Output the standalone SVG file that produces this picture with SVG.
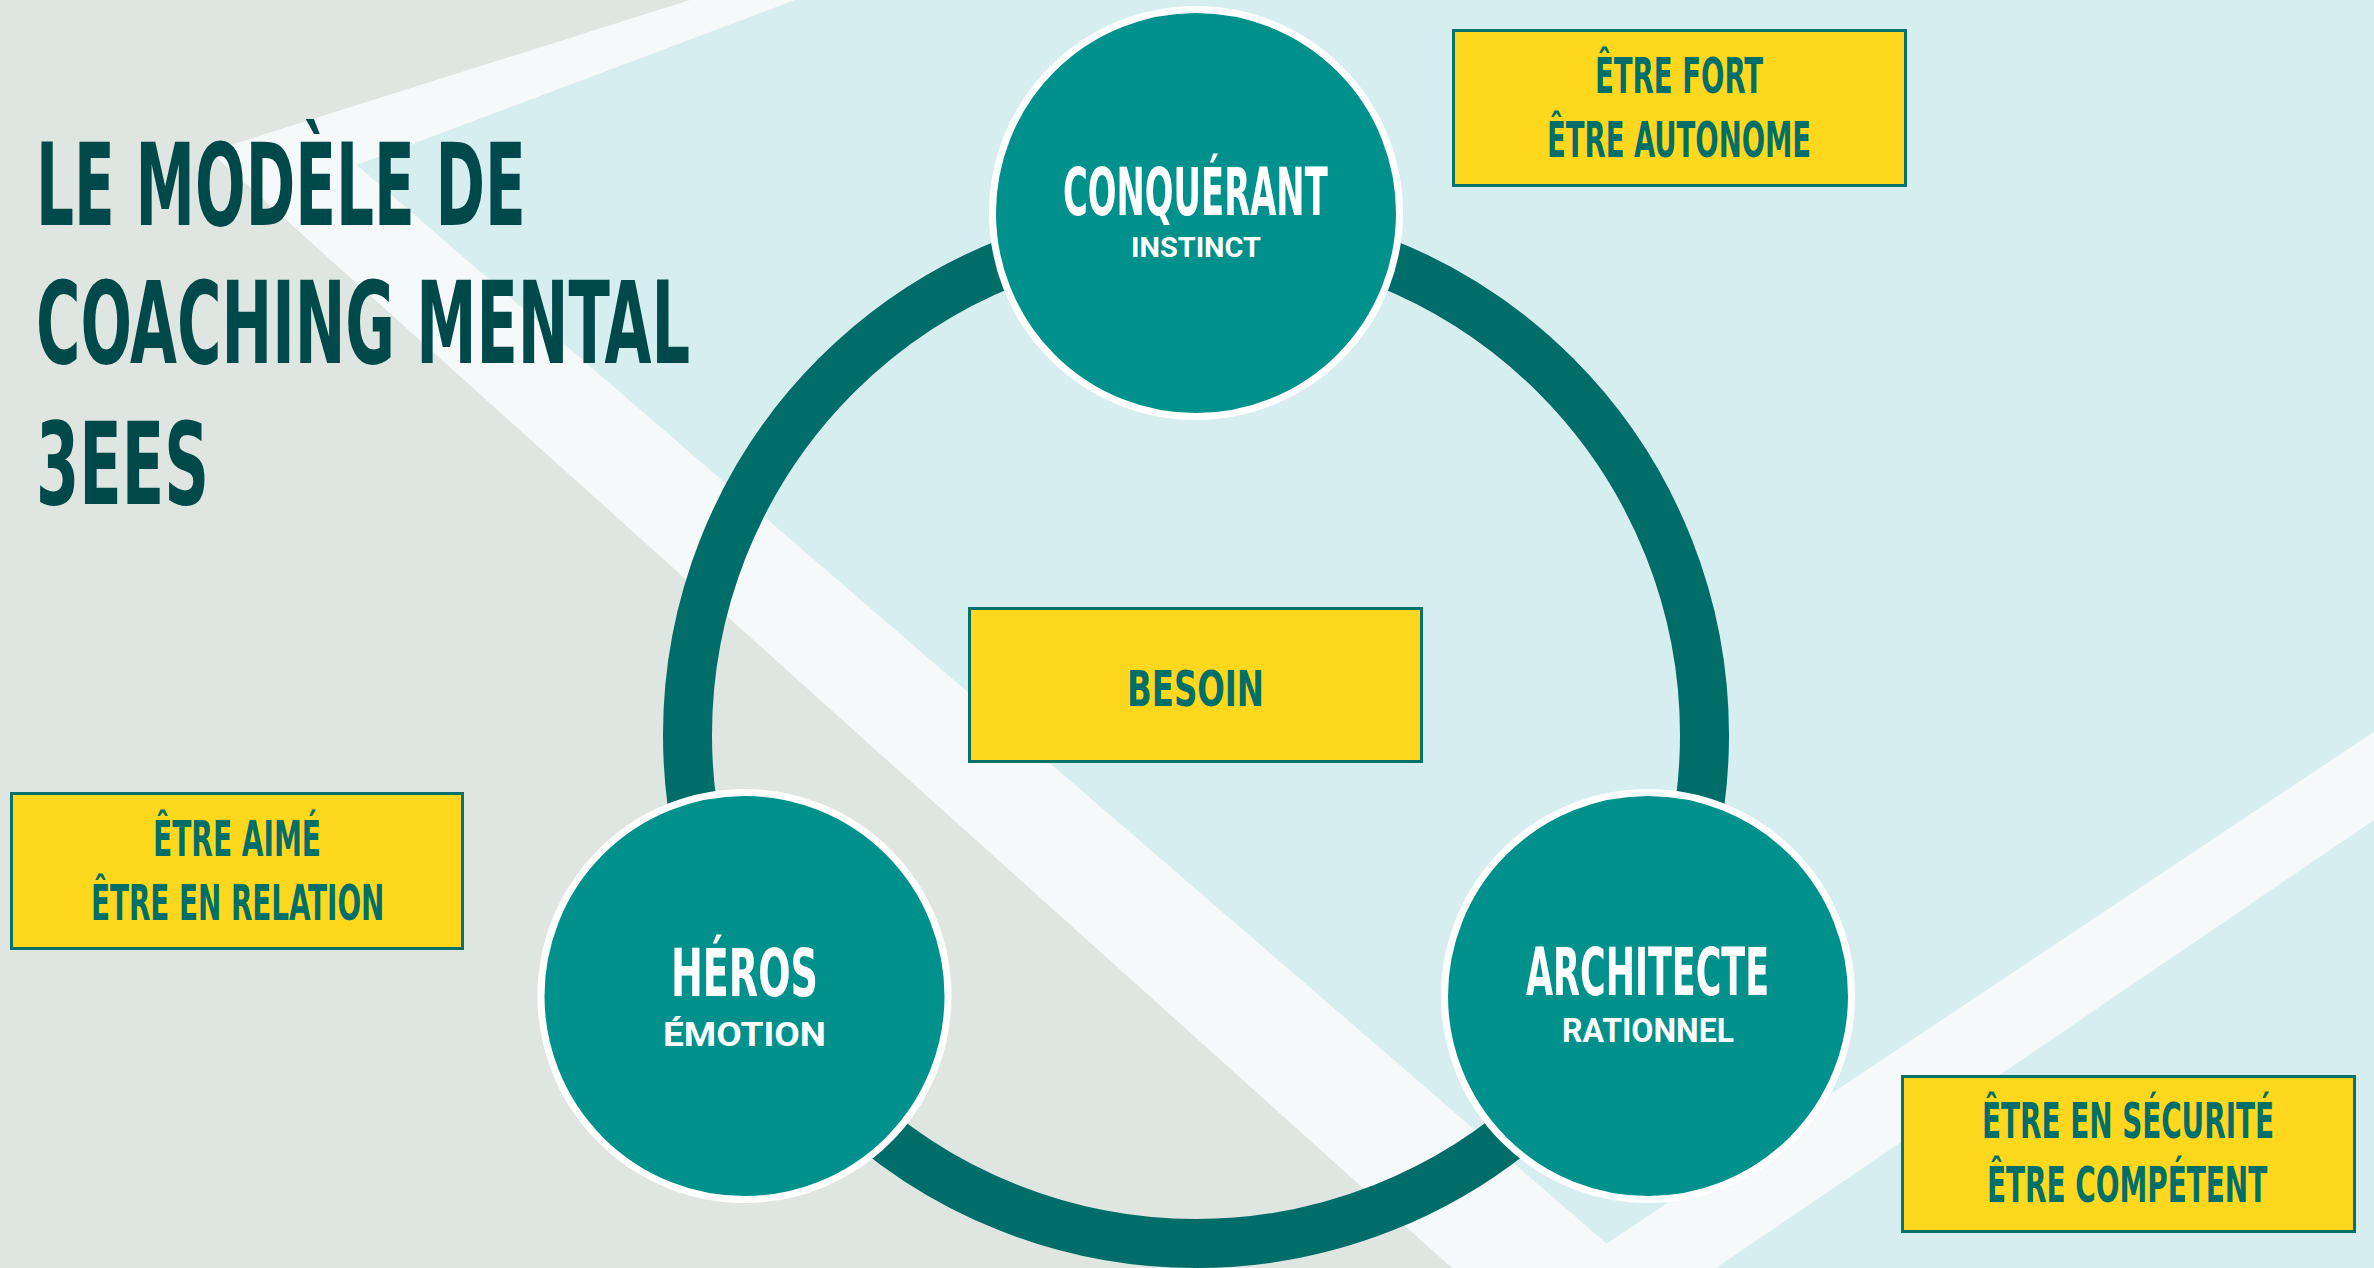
<svg xmlns="http://www.w3.org/2000/svg" width="2374" height="1268" viewBox="0 0 2374 1268">
<defs>
<style>
.grey{fill:#DFE6E1}
.blue{fill:#D7EEF0}
.band{fill:#F6F9F9}
.ring{fill:none;stroke:#006D68;stroke-width:49}
.node{fill:#00918C;stroke:#FFFFFF;stroke-width:7}
.box{fill:#FFD81D;stroke:#08716A;stroke-width:3}
.cond{font-family:"Liberation Sans Narrow","DejaVu Sans Condensed","Liberation Sans",sans-serif;font-weight:bold}
.sub{font-family:Roboto,"Liberation Sans",sans-serif;font-weight:bold;fill:#FFFFFF}
.title{fill:#00494A;font-size:114px}
.main{fill:#FFFFFF;font-size:66px}
.need{fill:#006F69;font-size:50px}
</style>
</defs>
<g id="background">
<rect class="grey" x="0" y="0" width="2374" height="1268"/>
<polygon class="blue" points="795,0 2374,0 2374,1268 1635,1268 356.7,165"/>
<polygon class="band" points="210,151.5 690,0 795,0 356.7,165 1635,1268 1452,1268"/>
<polygon class="band" points="2374,731.7 2374,820 1716,1268 1570,1268"/>
</g>
<g id="title">
<text class="cond title" transform="translate(36,225) scale(0.62,1)" x="0" y="0" textLength="790" lengthAdjust="spacingAndGlyphs">LE MODÈLE DE</text>
<text class="cond title" transform="translate(36,363) scale(0.62,1)" x="0" y="0" textLength="1055" lengthAdjust="spacingAndGlyphs">COACHING MENTAL</text>
<text class="cond title" transform="translate(36,504) scale(0.62,1)" x="0" y="0" textLength="279" lengthAdjust="spacingAndGlyphs">3EES</text>
</g>
<g id="connectors">
<circle class="ring" cx="1196" cy="735" r="508.5"/>
</g>
<g id="conquerant">
<circle class="node" cx="1196" cy="213" r="203.5"/>
<text class="cond main" transform="translate(1063,215) scale(0.62,1)" x="0" y="0" textLength="427" lengthAdjust="spacingAndGlyphs">CONQUÉRANT</text>
<text class="sub" x="1131" y="257" font-size="28" textLength="130" lengthAdjust="spacingAndGlyphs">INSTINCT</text>
</g>
<g id="heros">
<circle class="node" cx="744.5" cy="996" r="203.5"/>
<text class="cond main" transform="translate(671,996) scale(0.62,1)" x="0" y="0" textLength="237" lengthAdjust="spacingAndGlyphs">HÉROS</text>
<text class="sub" x="663" y="1046" font-size="33" textLength="163" lengthAdjust="spacingAndGlyphs">ÉMOTION</text>
</g>
<g id="architecte">
<circle class="node" cx="1648" cy="996" r="203.5"/>
<text class="cond main" transform="translate(1526,995) scale(0.62,1)" x="0" y="0" textLength="392" lengthAdjust="spacingAndGlyphs">ARCHITECTE</text>
<text class="sub" x="1562" y="1042" font-size="33" textLength="172" lengthAdjust="spacingAndGlyphs">RATIONNEL</text>
</g>
<g id="besoin">
<rect class="box" x="969.5" y="608.5" width="452" height="153"/>
<text class="cond need" transform="translate(1127,706) scale(0.62,1)" x="0" y="0" font-size="63" textLength="221" lengthAdjust="spacingAndGlyphs">BESOIN</text>
</g>
<g id="box-fort">
<rect class="box" x="1453.5" y="30.5" width="452" height="155"/>
<text class="cond need" transform="translate(1595,93) scale(0.62,1)" x="0" y="0" textLength="271" lengthAdjust="spacingAndGlyphs">ÊTRE FORT</text>
<text class="cond need" transform="translate(1547,157) scale(0.62,1)" x="0" y="0" textLength="426" lengthAdjust="spacingAndGlyphs">ÊTRE AUTONOME</text>
</g>
<g id="box-aime">
<rect class="box" x="11.5" y="793.5" width="451" height="155"/>
<text class="cond need" transform="translate(153,856) scale(0.62,1)" x="0" y="0" textLength="271" lengthAdjust="spacingAndGlyphs">ÊTRE AIMÉ</text>
<text class="cond need" transform="translate(91,920) scale(0.62,1)" x="0" y="0" textLength="473" lengthAdjust="spacingAndGlyphs">ÊTRE EN RELATION</text>
</g>
<g id="box-securite">
<rect class="box" x="1902.5" y="1076.5" width="452" height="155"/>
<text class="cond need" transform="translate(1982,1138) scale(0.62,1)" x="0" y="0" textLength="471" lengthAdjust="spacingAndGlyphs">ÊTRE EN SÉCURITÉ</text>
<text class="cond need" transform="translate(1987,1202) scale(0.62,1)" x="0" y="0" textLength="452" lengthAdjust="spacingAndGlyphs">ÊTRE COMPÉTENT</text>
</g>
</svg>
